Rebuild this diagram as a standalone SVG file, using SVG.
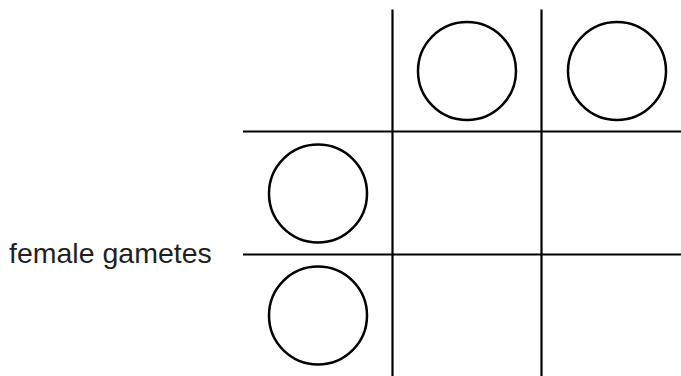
<svg xmlns="http://www.w3.org/2000/svg" width="681" height="376" viewBox="0 0 681 376">
<style>
.ln{stroke:#000;stroke-width:2.2;fill:none}
.c{stroke:#000;stroke-width:2.5;fill:#fff}
.t{font-family:"Liberation Sans",Arial,sans-serif;font-size:28.5px;fill:#231f20}
</style>
<rect width="681" height="376" fill="#fff"/>
<g id="connectors">
<line class="ln" x1="392.5" y1="9.5" x2="392.5" y2="376"/>
<line class="ln" x1="541.5" y1="9.5" x2="541.5" y2="376"/>
<line class="ln" x1="243" y1="131.5" x2="681" y2="131.5"/>
<line class="ln" x1="243" y1="254.5" x2="681" y2="254.5"/>
</g>
<g id="male1"><circle class="c" cx="467" cy="71" r="49"/></g>
<g id="male2"><circle class="c" cx="617" cy="71" r="49"/></g>
<g id="female1"><circle class="c" cx="318" cy="193.5" r="49"/></g>
<g id="female2"><circle class="c" cx="318" cy="315.5" r="49"/></g>
<g id="label"><text class="t" x="9" y="263">female gametes</text></g>
</svg>
